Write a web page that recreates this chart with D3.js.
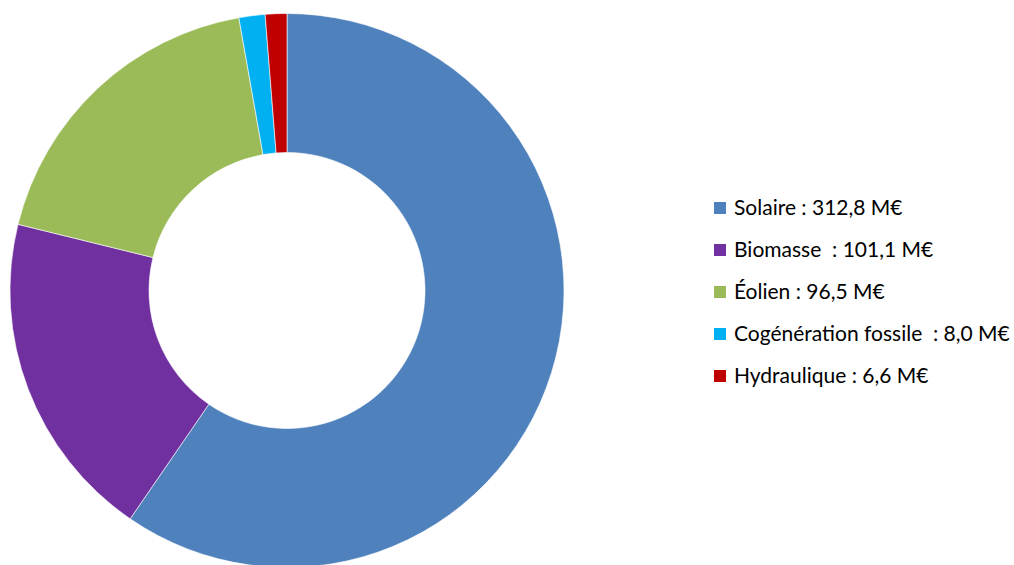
<!DOCTYPE html>
<html><head><meta charset="utf-8">
<script src="https://cdn.jsdelivr.net/npm/d3@7"></script>
<style>body{margin:0;background:#fff}svg{display:block}text{white-space:pre}</style>
</head><body>
<svg id="c" width="1014" height="565"></svg>
<script>
const categories = ["Solaire", "Biomasse", "Éolien", "Cogénération fossile", "Hydraulique"];
const values = [312.8, 101.1, 96.5, 8.0, 6.6];
const labels = ["Solaire : 312,8 M€", "Biomasse  : 101,1 M€", "Éolien : 96,5 M€", "Cogénération fossile  : 8,0 M€", "Hydraulique : 6,6 M€"];
const colors = ["#4F81BD", "#7030A0", "#9BBB59", "#00B0F0", "#C00000"];

const svg = d3.select("#c");
const cx = 287, cy = 290.5, rOuter = 277, rInner = 138;
const pie = d3.pie().sort(null).value(d => d)(values);
const arc = d3.arc().innerRadius(rInner).outerRadius(rOuter);
const g = svg.append("g").attr("transform", `translate(${cx},${cy})`);
g.selectAll("path").data(pie).join("path")
  .attr("d", arc).attr("fill", (d, i) => colors[i])
  .attr("stroke", "#fff").attr("stroke-width", 0.6);

const y = d3.scalePoint().domain(categories).range([208, 376]);
const lg = svg.append("g");
const items = lg.selectAll("g").data(categories).join("g")
  .attr("transform", d => `translate(714,${y(d)})`);
items.append("rect").attr("x", 0).attr("y", -6).attr("width", 12).attr("height", 12)
  .attr("fill", (d, i) => colors[i]);
items.append("text").attr("x", 20).attr("y", 0).attr("dy", "0.35em")
  .attr("font-family", "Lato, 'Open Sans', sans-serif").attr("font-size", 21)
  .attr("fill", "#000")
  .text((d, i) => labels[i]);
</script>
</body></html>
